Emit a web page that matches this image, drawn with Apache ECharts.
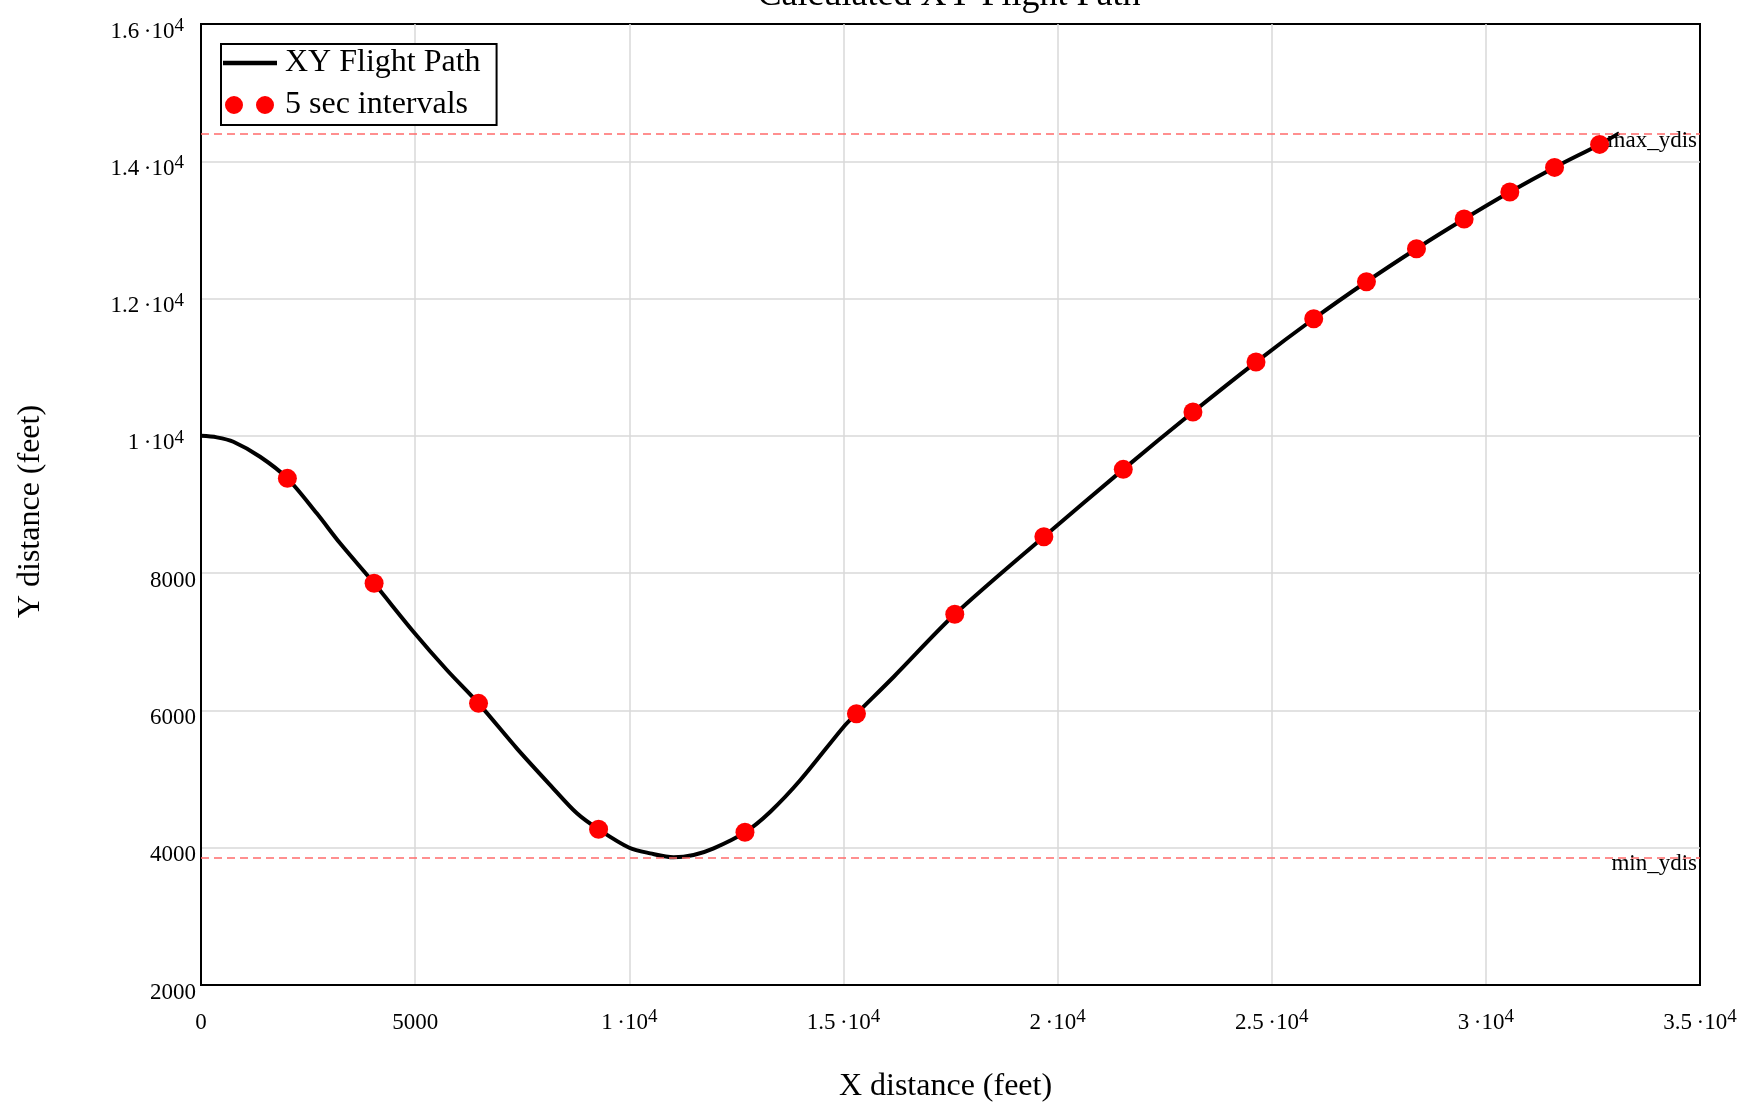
<!DOCTYPE html>
<html>
<head>
<meta charset="utf-8">
<script src="https://cdn.jsdelivr.net/npm/echarts@6/dist/echarts.min.js"></script>
<style>
  html, body { margin: 0; padding: 0; background: #fff; }
  #chart { width: 1738px; height: 1102px; }
</style>
</head>
<body>
<div id="chart"></div>
<script>
// ---- data ----
const chartTitle = 'Calculated XY Flight Path';
const xName = 'X distance (feet)';
const yName = 'Y distance (feet)';
const pathName = 'XY Flight Path';
const dotName = '5 sec intervals';

const pathX = [0, 370, 755, 1379, 2017, 2703, 3248, 4042, 4960, 5741, 6480, 7373, 8154, 8777, 9283, 10000, 10490, 11035, 11502, 11970, 12701, 13294, 13995, 15007, 15304, 16176, 17600, 19680, 21534, 23161, 24633, 25981, 27212, 28380, 29493, 30560, 31604, 32656, 33114];
const pathY = [10000, 9978, 9914, 9696, 9381, 8871, 8434, 7852, 7147, 6589, 6103, 5448, 4913, 4501, 4268, 4000, 3918, 3860, 3894, 3991, 4224, 4525, 4986, 5763, 5952, 6491, 7400, 8531, 9512, 10347, 11075, 11706, 12245, 12726, 13158, 13552, 13911, 14246, 14410];

const dotX = [2017, 4042, 6480, 9283, 12701, 15304, 17600, 19680, 21534, 23161, 24633, 25981, 27212, 28380, 29493, 30560, 31604, 32656];
const dotY = [9381, 7852, 6103, 4268, 4224, 5952, 7400, 8531, 9512, 10347, 11075, 11706, 12245, 12726, 13158, 13552, 13911, 14246];

const maxYdis = 14400;
const minYdis = 3860;
const maxLabel = 'max_ydis';
const minLabel = 'min_ydis';

const xMin = 0, xMax = 35000, xStep = 5000;
const yMin = 2000, yMax = 16000, yStep = 2000;

// ---- chart ----
const FONT = 'Liberation Serif';
const chart = echarts.init(document.getElementById('chart'));

function sciLabel(v) {
  if (Math.abs(v) >= 10000) {
    const m = +(v / 10000).toFixed(3);
    return '{b|' + m + '\u2009\u00B710}{s|4}';
  }
  return '{b|' + v + '}';
}

const pathData = pathX.map((x, i) => [x, pathY[i]]);
const dotData = dotX.map((x, i) => [x, dotY[i]]);

const baseRich = { fontFamily: FONT, fontSize: 23, lineHeight: 30, color: '#000' };
const supRich = { fontFamily: FONT, fontSize: 19, lineHeight: 8, verticalAlign: 'top', color: '#000' };

const option = {
  animation: false,
  backgroundColor: '#fff',
  title: {
    text: chartTitle,
    left: 944,
    textAlign: 'center',
    top: -27,
    textStyle: { fontFamily: FONT, fontSize: 36, fontWeight: 'normal', color: '#000' }
  },
  grid: {
    left: 201, right: 38, top: 24, bottom: 117,
    containLabel: false,
    outerBoundsMode: 'none',
    show: true,
    borderColor: '#000',
    borderWidth: 2,
    backgroundColor: 'transparent'
  },
  legend: {
    orient: 'vertical',
    left: 221,
    top: 44,
    padding: [3, 16, 4, 2],
    itemGap: 10,
    itemWidth: 54,
    itemHeight: 18,
    borderColor: '#000',
    borderWidth: 2,
    backgroundColor: '#fff',
    textStyle: { fontFamily: FONT, fontSize: 32, color: '#000', padding: [0, 0, 0, 3] },
    data: [
      { name: pathName, icon: 'path://M0,0M54,18M0,6.75h54v4.5h-54z' },
      { name: dotName, icon: 'path://M2,9a9,9 0 1,0 18,0a9,9 0 1,0 -18,0M33,9a9,9 0 1,0 18,0a9,9 0 1,0 -18,0M0,0M54,18' }
    ]
  },
  xAxis: {
    type: 'value',
    min: xMin, max: xMax, interval: xStep,
    name: xName,
    nameLocation: 'middle',
    nameGap: 86,
    nameTextStyle: { fontFamily: FONT, fontSize: 32, color: '#000', verticalAlign: 'top', padding: [0, 10, 0, 0] },
    axisLine: { show: true, onZero: false, lineStyle: { color: '#000', width: 2 } },
    axisTick: { show: false },
    splitLine: { show: true, showMinLine: false, showMaxLine: false, lineStyle: { color: '#d9d9d9', width: 1.5 } },
    axisLabel: {
      margin: 23,
      formatter: sciLabel,
      rich: { b: baseRich, s: supRich }
    }
  },
  yAxis: {
    type: 'value',
    min: yMin, max: yMax, interval: yStep,
    name: yName,
    nameLocation: 'middle',
    nameGap: 154,
    nameTextStyle: { fontFamily: FONT, fontSize: 32, color: '#000', padding: [0, 14, 0, 0] },
    axisLine: { show: true, onZero: false, lineStyle: { color: '#000', width: 2 } },
    axisTick: { show: false },
    splitLine: { show: true, showMinLine: false, showMaxLine: false, lineStyle: { color: '#d9d9d9', width: 1.5 } },
    axisLabel: {
      margin: 5,
      padding: [15, 0, 0, 0],
      formatter: sciLabel,
      rich: { b: baseRich, s: Object.assign({}, supRich, { padding: [0, 12, 0, 0] }) }
    }
  },
  series: [
    {
      name: pathName,
      type: 'line',
      data: pathData,
      smooth: 0.3,
      symbol: 'none',
      z: 3,
      lineStyle: { color: '#000', width: 4 },
      itemStyle: { color: '#000' },
      markLine: {
        silent: true,
        symbol: ['none', 'none'],
        lineStyle: { color: '#ff6b6b', type: [8, 5], width: 1.5 },
        label: {
          position: 'insideEndBottom',
          distance: [3, 0],
          lineHeight: 14,
          fontFamily: FONT,
          fontSize: 23,
          color: '#000'
        },
        data: [
          { yAxis: maxYdis, label: { formatter: maxLabel } },
          { yAxis: minYdis, label: { formatter: minLabel } }
        ]
      }
    },
    {
      name: dotName,
      type: 'scatter',
      data: dotData,
      symbol: 'circle',
      symbolSize: 19,
      z: 4,
      itemStyle: { color: '#ff0000', opacity: 1 }
    }
  ]
};

chart.setOption(option);
</script>
</body>
</html>
